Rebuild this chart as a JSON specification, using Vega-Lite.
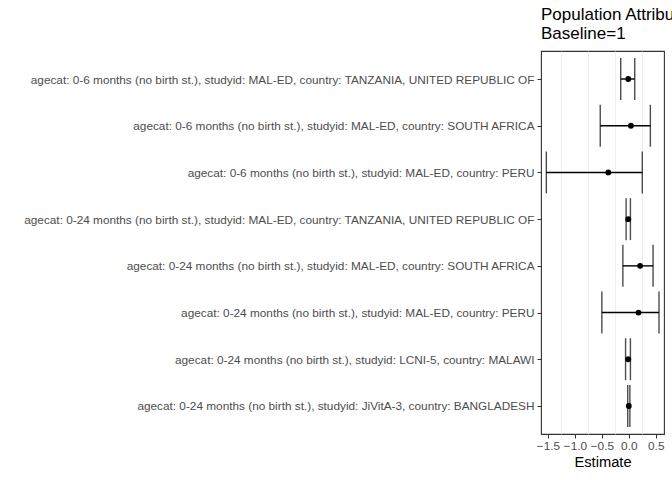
{
  "$schema": "https://vega.github.io/schema/vega-lite/v6.json",
  "autosize": {"type": "none"},
  "width": 123,
  "height": 383,
  "padding": {"left": 541, "top": 51, "right": 8, "bottom": 46},
  "background": "white",
  "title": {
    "text": ["Population Attributable Difference", "Baseline=1"],
    "anchor": "start",
    "frame": "group",
    "font": "Liberation Sans",
    "fontSize": 17,
    "fontWeight": "normal",
    "color": "#000000",
    "offset": 8,
    "lineHeight": 19
  },
  "config": {
    "font": "Liberation Sans",
    "view": {"stroke": "#333333", "strokeWidth": 1.1},
    "axis": {
      "domain": false,
      "gridColor": "#EBEBEB",
      "gridWidth": 1.1,
      "tickColor": "#333333",
      "tickSize": 4,
      "tickWidth": 1,
      "labelColor": "#4D4D4D",
      "labelFont": "Liberation Sans",
      "labelFontSize": 11.8,
      "titleFont": "Liberation Sans",
      "titleFontSize": 14.7,
      "titleFontWeight": "normal",
      "titleColor": "#000000"
    }
  },
  "data": {
    "values": [
      {"label": "agecat: 0-6 months (no birth st.), studyid: MAL-ED, country: TANZANIA, UNITED REPUBLIC OF", "est": -0.01, "lo": -0.15, "hi": 0.11},
      {"label": "agecat: 0-6 months (no birth st.), studyid: MAL-ED, country: SOUTH AFRICA", "est": 0.04, "lo": -0.53, "hi": 0.40},
      {"label": "agecat: 0-6 months (no birth st.), studyid: MAL-ED, country: PERU", "est": -0.38, "lo": -1.53, "hi": 0.25},
      {"label": "agecat: 0-24 months (no birth st.), studyid: MAL-ED, country: TANZANIA, UNITED REPUBLIC OF", "est": -0.01, "lo": -0.05, "hi": 0.03},
      {"label": "agecat: 0-24 months (no birth st.), studyid: MAL-ED, country: SOUTH AFRICA", "est": 0.21, "lo": -0.11, "hi": 0.45},
      {"label": "agecat: 0-24 months (no birth st.), studyid: MAL-ED, country: PERU", "est": 0.18, "lo": -0.50, "hi": 0.56},
      {"label": "agecat: 0-24 months (no birth st.), studyid: LCNI-5, country: MALAWI", "est": -0.01, "lo": -0.06, "hi": 0.03},
      {"label": "agecat: 0-24 months (no birth st.), studyid: JiVitA-3, country: BANGLADESH", "est": 0.0, "lo": -0.02, "hi": 0.02}
    ]
  },
  "resolve": {"axis": {"x": "independent"}},
  "layer": [
    {
      "mark": {"type": "rule", "opacity": 0},
      "encoding": {
        "x": {
          "field": "est", "type": "quantitative",
          "scale": {"domain": [-1.629, 0.653], "nice": false, "zero": false},
          "axis": {"orient": "bottom", "values": [-1.75, -1.25, -0.75, -0.25, 0.25, 0.75], "labels": false, "ticks": false, "domain": false, "title": null, "gridWidth": 0.8, "zindex": 0}
        }
      }
    },
    {
      "mark": {"type": "rule", "color": "black", "strokeWidth": 1.4},
      "encoding": {
        "y": {
          "field": "label", "type": "nominal", "sort": null,
          "scale": {"type": "point", "padding": 0.6},
          "axis": {"title": null, "labelLimit": 0, "labelPadding": 3, "gridWidth": 1.1}
        },
        "x": {
          "field": "lo", "type": "quantitative",
          "scale": {"domain": [-1.629, 0.653], "nice": false, "zero": false},
          "axis": {"orient": "bottom", "values": [-1.5, -1.0, -0.5, 0.0, 0.5], "format": ".1f", "title": "Estimate", "titlePadding": 3, "labelPadding": 2}
        },
        "x2": {"field": "hi"}
      }
    },
    {
      "mark": {"type": "tick", "orient": "vertical", "color": "black", "size": 42, "thickness": 1.4},
      "encoding": {
        "y": {"field": "label", "type": "nominal", "sort": null},
        "x": {"field": "lo", "type": "quantitative", "axis": null}
      }
    },
    {
      "mark": {"type": "tick", "orient": "vertical", "color": "black", "size": 42, "thickness": 1.4},
      "encoding": {
        "y": {"field": "label", "type": "nominal", "sort": null},
        "x": {"field": "hi", "type": "quantitative", "axis": null}
      }
    },
    {
      "mark": {"type": "point", "filled": true, "color": "black", "opacity": 1, "size": 34},
      "encoding": {
        "y": {"field": "label", "type": "nominal", "sort": null},
        "x": {"field": "est", "type": "quantitative", "axis": null}
      }
    }
  ]
}
